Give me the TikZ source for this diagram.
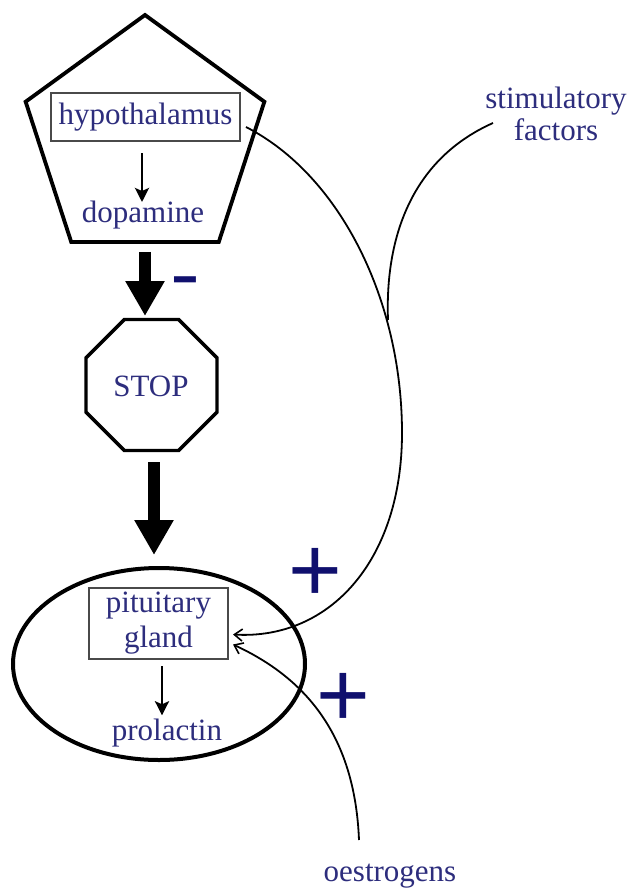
\documentclass[tikz,border=0pt]{standalone}
\usepackage{fontspec}
\setmainfont{Liberation Serif}
\newfontfamily\signfont{Liberation Sans}
\usetikzlibrary{arrows.meta,shapes.geometric}
\definecolor{txt}{HTML}{2D2D7D}
\definecolor{sgn}{HTML}{10106E}
\definecolor{boxgray}{HTML}{4A4A4A}
\begin{document}
\begin{tikzpicture}[x=1pt,y=-1pt,
  lbl/.style={text=txt, font=\fontsize{31}{35}\selectfont, inner sep=0pt},
  gbox/.style={draw=boxgray, line width=2pt, inner sep=0pt, text=txt, font=\fontsize{31}{35}\selectfont, align=center},
  organ/.style={draw=black, line width=3.8pt, inner sep=0pt},
  bigarr/.style={line width=12pt, -{Triangle[length=35pt,width=37pt]}},
  smallarr/.style={line width=2.8pt, -{Stealth[length=14pt,width=14pt,inset=3pt]}},
  curvearr/.style={line width=1.8pt, -{Straight Barb[length=8pt,width=12pt,line width=1.6pt]}},
  curveline/.style={line width=1.8pt},
  sign/.style={text=sgn, font=\signfont\fontsize{92}{92}\selectfont, inner sep=0pt, anchor=base}
]
\useasboundingbox (0,0) rectangle (633,891);
\fill[white] (0,0) rectangle (633,891);

% pentagon (hypothalamus)
\node[organ, regular polygon, regular polygon sides=5, minimum size=251pt] (pent) at (145,140.5) {};
\node[gbox, minimum width=189pt, minimum height=48pt] (hbox) at (145.5,117) {hypothalamus};
\node[lbl, anchor=base] (dopa) at (143,222) {dopamine};
\draw[smallarr, shorten <=11pt] (hbox.south -| 142,0) -- (142,202);

% minus
\node[sign, font=\signfont\fontsize{78}{78}\selectfont, xscale=1.15] (minus) at (185,300.8) {-};

% octagon STOP
\node[organ, line width=3.4pt, regular polygon, regular polygon sides=8, minimum size=141.8pt] (stop) at (151.5,385) {};
\node[lbl, anchor=base] (stoptxt) at (151,396) {STOP};

% thick arrows
\draw[bigarr] ([yshift=-8pt]pent.south -| 145,0) -- (145,316);
\draw[bigarr] ([yshift=-10pt]stop.south -| 154,0) -- (154,555);

% ellipse (pituitary gland)
\node[organ, line width=4pt, ellipse, minimum width=292pt, minimum height=192pt] (ell) at (159,664) {};
\node[gbox, minimum width=139pt, minimum height=71pt] (pbox) at (158.5,623.5) {pituitary\\gland};
\node[lbl, anchor=base] (prol) at (167,740) {prolactin};
\draw[smallarr, shorten <=6pt, shorten >=3pt] ([xshift=3.5pt]pbox.south) -- ([xshift=3.5pt]pbox.south |- prol.north);

% plus signs
\node[sign] (plus1) at (315,601) {+};
\node[sign] (plus2) at (343,726) {+};

% stimulatory factors
\node[lbl, anchor=north, align=center, font=\fontsize{31}{32}\selectfont] (stim) at (556,87) {stimulatory\\factors};
\coordinate (sfstart) at (493,123);
\coordinate (merge) at (388,320);

% oestrogens
\node[lbl, anchor=base] (oest) at (390,881) {oestrogens};

% curves
\draw[curvearr] ([shift={(5,10)}]hbox.east) .. controls (340,175) and (402,300) .. (402,433)
   .. controls (402,560) and (330,640) .. ([shift={(4,11)}]pbox.east);
\draw[curveline] (sfstart) .. controls (410,160) and (385,240) .. (merge);
\draw[curvearr] (359,840) .. controls (355,740) and (310,680) .. ([shift={(4,21)}]pbox.east);
\end{tikzpicture}
\end{document}
